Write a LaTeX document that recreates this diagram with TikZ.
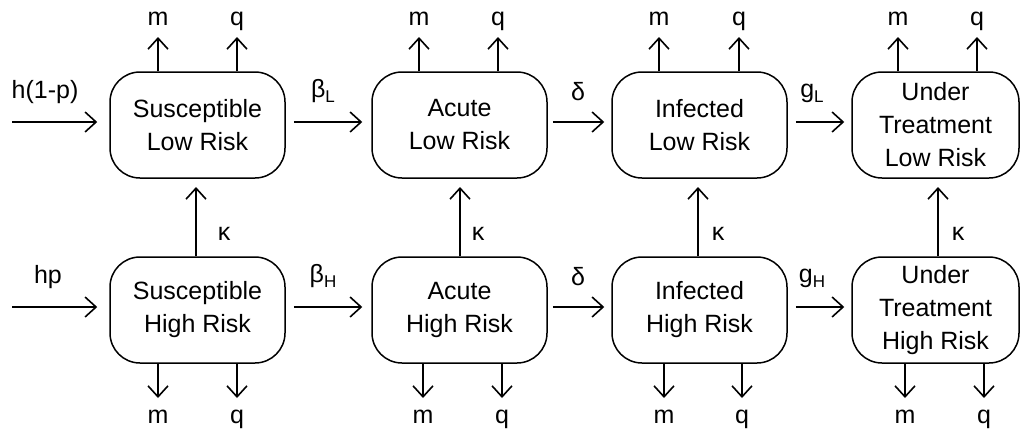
\documentclass[tikz,border=0pt]{standalone}
\usepackage{fontspec}
\setmainfont{Liberation Sans}
\usetikzlibrary{arrows.meta,calc}
\newcommand{\mysub}[1]{\raisebox{-5pt}{\fontsize{17}{17}\selectfont #1}}
\begin{document}
\begin{tikzpicture}[x=1pt,y=-1pt,
  box/.style={draw,line width=1.5pt,rounded corners=30pt,minimum width=175pt,minimum height=106pt,
    align=center,inner sep=0pt,font=\fontsize{25}{33}\selectfont},
  lab/.style={font=\fontsize{25}{30}\selectfont,inner sep=0pt,anchor=base},
  arr/.style={line width=1.6pt,-{Straight Barb[length=11pt,width=20pt,line width=1.6pt]}}]
\useasboundingbox (0,0) rectangle (1020,431);
% boxes
\node[box] (sL) at (197.5,125) {Susceptible\\Low Risk};
\node[box] (aL) at (459.5,125) {Acute\\Low Risk};
\node[box] (iL) at (699.5,125) {Infected\\Low Risk};
\node[box,minimum width=167pt] (tL) at (935.5,125) {Under\\Treatment\\Low Risk};
\node[box] (sH) at (197.5,310) {Susceptible\\High Risk};
\node[box] (aH) at (459.5,310) {Acute\\High Risk};
\node[box] (iH) at (699.5,310) {Infected\\High Risk};
\node[box,minimum width=167pt] (tH) at (935.5,310) {Under\\Treatment\\High Risk};
% inputs
\coordinate (inL) at (12,122);
\coordinate (inH) at (12,307);
\draw[arr] (inL) -- ([xshift=-12pt,yshift=3pt]sL.west);
\draw[arr] (inH) -- ([xshift=-12pt,yshift=3pt]sH.west);
\node[lab] (lin1) at (45,98) {h(1-p)};
\node[lab] (lin2) at (48,283) {hp};
% horizontal transitions
\draw[arr] ([xshift=8pt,yshift=3pt]sL.east) -- ([xshift=-9pt,yshift=3pt]aL.west);
\draw[arr] ([xshift=5pt,yshift=3pt]aL.east) -- ([xshift=-7pt,yshift=3pt]iL.west);
\draw[arr] ([xshift=8pt,yshift=3pt]iL.east) -- ([xshift=-7pt,yshift=3pt]tL.west);
\draw[arr] ([xshift=8pt,yshift=3pt]sH.east) -- ([xshift=-9pt,yshift=3pt]aH.west);
\draw[arr] ([xshift=5pt,yshift=3pt]aH.east) -- ([xshift=-7pt,yshift=3pt]iH.west);
\draw[arr] ([xshift=8pt,yshift=3pt]iH.east) -- ([xshift=-7pt,yshift=3pt]tH.west);
\node[lab] (lbL) at (323,97) {β\mysub{L}};
\node[lab] (ldL) at (578,100) {δ};
\node[lab] (lgL) at (812,97) {g\mysub{L}};
\node[lab] (lbH) at (323,282) {β\mysub{H}};
\node[lab] (ldH) at (578,285) {δ};
\node[lab] (lgH) at (812,282) {g\mysub{H}};
% kappa transitions
\foreach \b/\t/\x/\lx in {sH/sL/196/224, aH/aL/460/478, iH/iL/698/718, tH/tL/938/958}{
  \coordinate (k\x) at (\x,187);
  \draw[arr] (\b.north -| k\x) -- (k\x);
  \node[lab] at (\lx,240) {κ};
}
% outflows top
\foreach \bx/\x in {sL/158, sL/237, aL/419, aL/498, iL/659, iL/739, tL/898, tL/977}{
  \coordinate (u\x) at (\x,37);
  \draw[arr] (\bx.north -| u\x) -- (u\x);
}
\foreach \x/\t in {158/m, 237/q, 419/m, 498/q, 659/m, 739/q, 898/m, 977/q}{
  \node[lab] at (\x,25) {\t};
}
% outflows bottom
\foreach \bx/\x in {sH/158, sH/237, aH/423, aH/502, iH/664, iH/742, tH/905, tH/984}{
  \coordinate (d\x) at (\x,398);
  \draw[arr] (\bx.south -| d\x) -- (d\x);
}
\foreach \x/\t in {158/m, 237/q, 423/m, 502/q, 664/m, 742/q, 905/m, 984/q}{
  \node[lab] at (\x,423) {\t};
}
\end{tikzpicture}
\end{document}
